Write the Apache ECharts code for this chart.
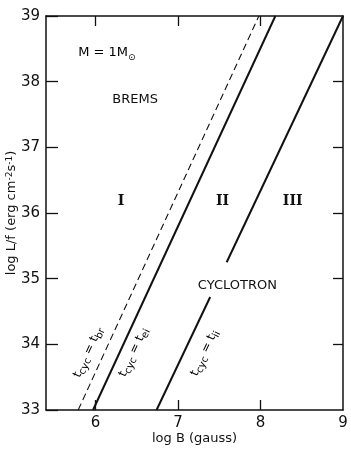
<!DOCTYPE html>
<html>
<head>
<meta charset="UTF-8">
<script src="https://cdn.jsdelivr.net/npm/echarts@6/dist/echarts.min.js"></script>
<style>
  html, body { margin: 0; padding: 0; background: #fff; }
  #chart { width: 351px; height: 452px; }
</style>
</head>
<body>
<div id="chart"></div>
<script>
// boundary lines, [log B, log L/f]
var brLine = [[5.79, 33], [7.98, 39]];        // t_cyc = t_br (dashed)
var eiLine = [[5.97, 33], [8.18, 39]];        // t_cyc = t_ei
var iiLow = [[6.74, 33], [7.39, 34.72]];      // t_cyc = t_ii, below the gap
var iiHigh = [[7.59, 35.25], [9.0, 39]];      // t_cyc = t_ii, above the gap
var xLabels = [6, 7, 8, 9];
var xTickVals = [6, 7, 8];
var yRightTicks = [34, 35, 36, 37, 38];

var ink = '#111';
var font = 'DejaVu Sans';

var chart = echarts.init(document.getElementById('chart'));

var sub = { fontSize: 10, fontFamily: font, color: ink, verticalAlign: 'bottom', lineHeight: 10 };
var main = { fontSize: 12, fontFamily: font, color: ink, lineHeight: 17, verticalAlign: 'middle' };

chart.setOption({
  animation: false,
  grid: { left: 46, right: 8, top: 16, bottom: 42, outerBoundsMode: 'none', containLabel: false },
  xAxis: [
    {
      type: 'value', position: 'bottom', min: 5.4, max: 9,
      name: 'log B (gauss)', nameLocation: 'middle', nameGap: 22, nameMoveOverlap: false,
      nameTextStyle: { fontFamily: font, fontSize: 13, color: ink },
      axisLine: { show: true, onZero: false, lineStyle: { color: ink, width: 1.5 } },
      axisTick: { show: true, inside: true, length: 10, customValues: xTickVals, lineStyle: { color: ink, width: 1.3 } },
      axisLabel: { customValues: xLabels, fontFamily: font, fontSize: 15, color: ink, margin: 6 },
      splitLine: { show: false }
    },
    {
      type: 'value', position: 'top', min: 5.4, max: 9,
      axisLine: { show: true, onZero: false, lineStyle: { color: ink, width: 1.5 } },
      axisTick: { show: true, inside: true, length: 10, customValues: xTickVals, lineStyle: { color: ink, width: 1.3 } },
      axisLabel: { show: false },
      splitLine: { show: false }
    }
  ],
  yAxis: [
    {
      type: 'value', position: 'left', min: 33, max: 39, interval: 1,
      name: 'log L/f (erg cm{sup|-2}s{sup|-1})', nameLocation: 'middle', nameGap: 28, nameRotate: 90,
      nameMoveOverlap: false,
      nameTextStyle: {
        fontFamily: font, fontSize: 13, color: ink,
        rich: { sup: { fontFamily: font, fontSize: 9, color: ink, verticalAlign: 'top', lineHeight: 9 } }
      },
      axisLine: { show: true, onZero: false, lineStyle: { color: ink, width: 1.5 } },
      axisTick: { show: true, inside: true, length: 12, lineStyle: { color: ink, width: 1.3 } },
      axisLabel: { fontFamily: font, fontSize: 15, color: ink, margin: 6 },
      splitLine: { show: false }
    },
    {
      type: 'value', position: 'right', min: 33, max: 39, interval: 1,
      axisLine: { show: true, onZero: false, lineStyle: { color: ink, width: 1.5 } },
      axisTick: { show: true, inside: true, length: 10, customValues: yRightTicks, lineStyle: { color: ink, width: 1.3 } },
      axisLabel: { show: false },
      splitLine: { show: false }
    }
  ],
  series: [
    { type: 'line', data: brLine, symbol: 'none', lineStyle: { color: ink, width: 1.1, type: [7, 4] } },
    { type: 'line', data: eiLine, symbol: 'none', lineStyle: { color: ink, width: 2 } },
    { type: 'line', data: iiLow, symbol: 'none', lineStyle: { color: ink, width: 2 } },
    { type: 'line', data: iiHigh, symbol: 'none', lineStyle: { color: ink, width: 2 } }
  ]
});

// annotations placed in data coordinates
function px(x, y) { return chart.convertToPixel({ xAxisIndex: 0, yAxisIndex: 0 }, [x, y]); }

function txt(x, y, text, style, align) {
  var p = px(x, y);
  return {
    type: 'text', x: p[0], y: p[1],
    style: Object.assign({ text: text, fill: ink, fontFamily: font, fontSize: 13, align: align || 'center', verticalAlign: 'middle' }, style || {})
  };
}

function rotated(x, y, text) {
  var p = px(x, y);
  return {
    type: 'text', x: p[0], y: p[1], rotation: 65 * Math.PI / 180,
    style: {
      text: text, align: 'center', verticalAlign: 'middle',
      rich: { m: main, s: sub }
    }
  };
}

var roman = { fontFamily: 'DejaVu Serif', fontWeight: 'bold', fontSize: 14 };

chart.setOption({
  graphic: [
    {
      type: 'text', x: px(5.79, 38.44)[0], y: px(5.79, 38.44)[1],
      style: {
        text: '{m|M = 1M}{s|\u2299}', align: 'left', verticalAlign: 'middle',
        rich: {
          m: { fontFamily: font, fontSize: 13, color: ink, lineHeight: 18, verticalAlign: 'middle' },
          s: { fontFamily: font, fontSize: 9, color: ink, lineHeight: 9, verticalAlign: 'bottom' }
        }
      }
    },
    txt(6.48, 37.72, 'BREMS'),
    txt(6.31, 36.17, 'I', roman),
    txt(7.54, 36.17, 'II', roman),
    txt(8.39, 36.17, 'III', roman),
    txt(7.72, 34.9, 'CYCLOTRON'),
    rotated(5.91, 33.88, '{m|t}{s|cyc}{m| = t}{s|br}'),
    rotated(6.46, 33.88, '{m|t}{s|cyc}{m| = t}{s|ei}'),
    rotated(7.32, 33.87, '{m|t}{s|cyc}{m| = t}{s|ii}')
  ]
});
</script>
</body>
</html>
